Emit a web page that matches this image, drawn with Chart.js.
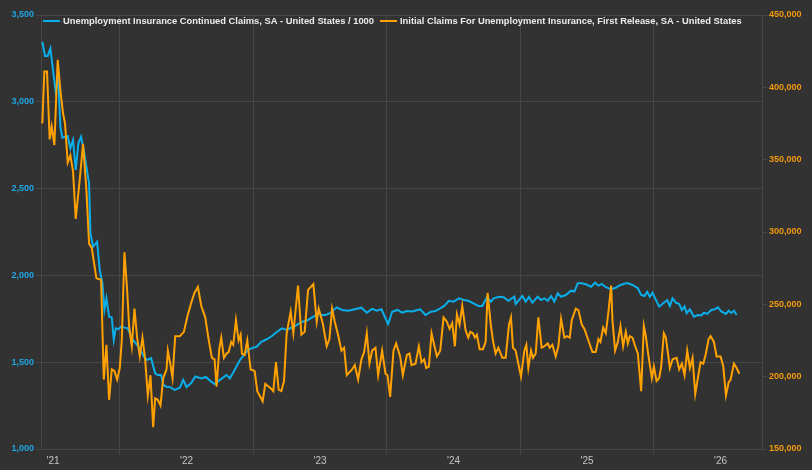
<!DOCTYPE html>
<html lang="en">
<head>
<meta charset="UTF-8">
<title>Continued vs Initial Claims</title>
<script src="https://cdn.jsdelivr.net/npm/chart.js"></script>
<style>
  html, body { margin: 0; padding: 0; background: #323232; }
  #wrap { width: 812px; height: 470px; }
</style>
</head>
<body>
<div id="wrap"><canvas id="grafico"></canvas></div>
<script>
// continued claims / 1000 (left axis), dates as decimal years
const contDates = [2021.42,2021.44,2021.46,2021.48,2021.52,2021.54,2021.555,2021.57,2021.59,2021.61,2021.63,2021.65,2021.67,2021.69,2021.71,2021.73,2021.77,2021.78,2021.80,2021.83,2021.85,2021.87,2021.885,2021.90,2021.92,2021.94,2021.955,2021.97,2021.99,
  2022.01,2022.035,2022.06,2022.09,2022.12,2022.15,2022.18,2022.205,2022.235,2022.265,2022.285,2022.31,2022.325,2022.35,2022.375,2022.41,2022.45,2022.475,2022.50,2022.535,2022.565,2022.61,2022.645,2022.675,2022.71,2022.75,2022.80,2022.825,2022.86,2022.90,2022.925,2022.96,2022.985,
  2023.025,2023.06,2023.10,2023.14,2023.175,2023.215,2023.25,2023.315,2023.365,2023.40,2023.45,2023.49,2023.51,2023.54,2023.575,2023.625,2023.665,2023.71,2023.76,2023.81,2023.85,2023.89,2023.925,2023.96,2023.99,
  2024.01,2024.04,2024.08,2024.115,2024.15,2024.19,2024.23,2024.25,2024.29,2024.33,2024.365,2024.39,2024.43,2024.465,2024.50,2024.54,2024.575,2024.61,2024.65,2024.685,2024.715,2024.75,2024.78,2024.80,2024.84,2024.875,2024.91,2024.955,2024.965,
  2025.015,2025.04,2025.065,2025.09,2025.13,2025.155,2025.18,2025.205,2025.23,2025.255,2025.28,2025.305,2025.34,2025.38,2025.405,2025.43,2025.46,2025.49,2025.53,2025.56,2025.585,2025.61,2025.64,2025.68,2025.715,2025.75,2025.79,2025.805,2025.84,2025.88,2025.905,2025.93,2025.95,2025.97,2025.99,
  2026.01,2026.04,2026.07,2026.10,2026.12,2026.14,2026.165,2026.19,2026.21,2026.23,2026.245,2026.27,2026.30,2026.33,2026.355,2026.375,2026.40,2026.43,2026.455,2026.48,2026.505,2026.54,2026.56,2026.58,2026.60,2026.62];
const contValues = [3346,3264,3264,3308,3058,3126,2857,2793,2799,2803,2732,2780,2607,2761,2799,2722,2531,2243,2165,2194,2031,1955,1801,1868,1762,1759,1628,1695,1690,
  1705,1699,1695,1638,1609,1580,1532,1513,1523,1436,1426,1426,1369,1359,1357,1340,1353,1398,1357,1380,1418,1407,1415,1394,1375,1398,1426,1407,1455,1513,1536,1570,1580,
  1589,1618,1632,1651,1674,1695,1686,1709,1733,1739,1762,1785,1772,1772,1782,1816,1801,1797,1805,1814,1785,1807,1797,1805,1753,
  1720,1791,1801,1785,1795,1792,1801,1805,1772,1791,1795,1805,1824,1854,1849,1868,1858,1854,1839,1824,1824,1874,1849,1868,1877,1874,1854,1877,1835,
  1881,1849,1876,1843,1877,1858,1868,1854,1881,1849,1897,1877,1887,1912,1907,1955,1955,1949,1935,1958,1941,1951,1932,1920,1929,1945,1955,1955,1945,1926,1887,1881,1906,1877,1900,
  1868,1820,1839,1858,1824,1868,1843,1835,1801,1821,1782,1805,1762,1772,1769,1785,1778,1801,1805,1816,1792,1778,1797,1784,1797,1772];

// initial claims, first release (right axis)
const initDates = [2021.42,2021.435,2021.455,2021.475,2021.49,2021.51,2021.535,2021.555,2021.575,2021.59,2021.61,2021.63,2021.65,2021.67,2021.70,2021.725,2021.75,2021.77,2021.79,2021.825,2021.86,2021.88,2021.90,2021.92,2021.94,2021.96,2021.98,
  2022.00,2022.015,2022.035,2022.055,2022.07,2022.09,2022.11,2022.13,2022.15,2022.17,2022.19,2022.21,2022.23,2022.25,2022.265,2022.285,2022.305,2022.325,2022.35,2022.36,2022.38,2022.395,2022.415,2022.45,2022.48,2022.51,2022.535,2022.56,2022.585,2022.61,2022.64,2022.665,2022.69,2022.71,2022.725,2022.745,2022.76,2022.78,2022.80,2022.815,2022.835,2022.85,2022.87,2022.89,2022.905,2022.915,2022.935,2022.955,2022.98,
  2023.01,2023.03,2023.07,2023.09,2023.13,2023.15,2023.17,2023.19,2023.21,2023.23,2023.25,2023.28,2023.30,2023.335,2023.36,2023.385,2023.41,2023.45,2023.475,2023.49,2023.52,2023.55,2023.57,2023.59,2023.61,2023.635,2023.66,2023.68,2023.70,2023.74,2023.76,2023.785,2023.81,2023.83,2023.85,2023.87,2023.89,2023.915,2023.935,2023.965,2023.99,
  2024.005,2024.025,2024.05,2024.07,2024.10,2024.12,2024.15,2024.17,2024.185,2024.215,2024.24,2024.26,2024.28,2024.295,2024.315,2024.335,2024.35,2024.375,2024.40,2024.425,2024.45,2024.47,2024.49,2024.51,2024.525,2024.545,2024.565,2024.59,2024.61,2024.625,2024.645,2024.66,2024.675,2024.695,2024.72,2024.74,2024.755,2024.78,2024.795,2024.815,2024.835,2024.865,2024.89,2024.915,2024.93,2024.945,2024.965,
  2025.005,2025.03,2025.045,2025.06,2025.08,2025.095,2025.115,2025.135,2025.16,2025.18,2025.205,2025.22,2025.24,2025.265,2025.285,2025.305,2025.33,2025.35,2025.37,2025.385,2025.415,2025.435,2025.46,2025.48,2025.51,2025.54,2025.565,2025.585,2025.60,2025.62,2025.64,2025.66,2025.68,2025.69,2025.71,2025.73,2025.75,2025.77,2025.79,2025.805,2025.82,2025.84,2025.86,2025.88,2025.905,2025.925,2025.94,2025.96,2025.985,
  2026.00,2026.02,2026.04,2026.055,2026.075,2026.09,2026.12,2026.14,2026.17,2026.19,2026.21,2026.23,2026.25,2026.27,2026.29,2026.31,2026.335,2026.35,2026.37,2026.39,2026.41,2026.425,2026.45,2026.47,2026.50,2026.52,2026.54,2026.56,2026.575,2026.60,2026.62,2026.64];
const initValues = [375000,411000,411000,364000,373000,360000,419000,398000,382000,375000,348000,353000,342000,309000,336000,361000,329000,292000,289000,268000,267000,198000,222000,184000,205000,204000,198000,
  206000,225000,286000,260000,235000,221000,247000,227000,214000,227000,212000,187000,201000,165000,185000,184000,180000,199000,205000,218000,208000,199000,228000,228000,231000,243000,251000,258000,262000,249000,241000,226000,213000,212000,193000,219000,227000,213000,216000,217000,224000,222000,239000,225000,229000,216000,215000,225000,205000,
  204000,190000,183000,195000,192000,190000,210000,191000,190000,197000,230000,245000,230000,263000,229000,231000,260000,264000,238000,247000,237000,221000,226000,247000,238000,229000,218000,220000,201000,205000,208000,198000,212000,217000,230000,209000,218000,220000,201000,218000,202000,
  201000,186000,218000,223000,214000,201000,215000,216000,208000,209000,221000,210000,212000,206000,207000,230000,224000,214000,218000,241000,238000,233000,237000,221000,243000,236000,249000,232000,227000,231000,230000,227000,229000,219000,219000,224000,258000,235000,225000,216000,220000,213000,213000,236000,241000,220000,218000,
  200000,218000,222000,206000,218000,213000,216000,241000,220000,221000,223000,220000,222000,214000,221000,240000,227000,228000,227000,239000,247000,246000,236000,233000,225000,217000,217000,226000,224000,234000,230000,245000,263000,239000,218000,224000,235000,221000,231000,223000,228000,227000,221000,216000,190000,235000,228000,214000,199000,
  207000,197000,199000,207000,230000,227000,206000,212000,213000,205000,209000,201000,218000,206000,213000,188000,202000,210000,209000,216000,226000,228000,224000,214000,214000,207000,187000,196000,198000,209000,206000,202000];

// axis ticks
const gridYears = [2022, 2023, 2024, 2025, 2026];
const labelYears = [2021.5, 2022.5, 2023.5, 2024.5, 2025.5, 2026.5];
const yearLabels = ["'21", "'22", "'23", "'24", "'25", "'26"];

const seriesNames = [
  'Unemployment Insurance Continued Claims, SA - United States / 1000',
  'Initial Claims For Unemployment Insurance, First Release, SA - United States'
];

const BLUE = '#0aaeea';
const ORANGE = '#ffa100';
const GRID = '#464646';
const FONT = 'Liberation Sans, Arial, sans-serif';

const toPoints = (xs, ys) => xs.map((x, i) => ({ x: x, y: ys[i] }));
const fmt = v => Number(v).toLocaleString('en-US');

// legend sits inside the plot, one row, top-left
const insideLegend = {
  id: 'insideLegend',
  afterDatasetsDraw(chart) {
    const { ctx, chartArea } = chart;
    ctx.save();
    ctx.font = 'bold 9.35px ' + FONT;
    ctx.textBaseline = 'middle';
    let x = chartArea.left + 2;
    const y = chartArea.top + 6;
    chart.data.datasets.forEach(ds => {
      ctx.fillStyle = ds.borderColor;
      ctx.fillRect(x, y - 1, 17, 2);
      x += 20;
      ctx.fillStyle = '#ececec';
      ctx.fillText(ds.label, x, y);
      x += ctx.measureText(ds.label).width + 6;
    });
    ctx.restore();
  }
};

const ctx = document.getElementById('grafico').getContext('2d');
const grafico = new Chart(ctx, {
  type: 'line',
  data: {
    datasets: [{
      label: seriesNames[0],
      data: toPoints(contDates, contValues),
      borderColor: BLUE,
      backgroundColor: BLUE,
      borderWidth: 2,
      pointRadius: 0,
      tension: 0,
      yAxisID: 'y',
      order: 1
    }, {
      label: seriesNames[1],
      data: toPoints(initDates, initValues),
      borderColor: ORANGE,
      backgroundColor: ORANGE,
      borderWidth: 2,
      pointRadius: 0,
      tension: 0,
      yAxisID: 'y1',
      order: 0
    }]
  },
  plugins: [insideLegend],
  options: {
    responsive: true,
    maintainAspectRatio: false,
    animation: false,
    layout: { padding: { top: 15 } },
    plugins: {
      tooltip: { enabled: false },
      legend: { display: false }
    },
    scales: {
      x: {
        type: 'linear',
        min: 2021.41,
        max: 2026.81,
        afterBuildTicks: s => {
          s.ticks = gridYears.concat(labelYears).sort((a, b) => a - b).map(v => ({ value: v }));
        },
        afterFit: s => { s.height = 21; },
        grid: {
          color: c => Number.isInteger(c.tick && c.tick.value) ? GRID : 'rgba(0,0,0,0)',
          tickLength: 6
        },
        border: { color: GRID },
        ticks: {
          autoSkip: false,
          maxRotation: 0,
          padding: 0,
          color: '#c4c4c4',
          font: { family: FONT, size: 10 },
          callback: v => {
            const i = labelYears.indexOf(v);
            return i >= 0 ? yearLabels[i] : '';
          }
        }
      },
      y: {
        position: 'left',
        min: 1000,
        max: 3500,
        afterFit: s => { s.width = 41; },
        grid: { color: GRID, tickLength: 5 },
        border: { color: GRID },
        ticks: {
          stepSize: 500,
          padding: 2,
          color: '#1ea6e2',
          font: { family: FONT, size: 9, weight: 'bold' },
          callback: fmt
        }
      },
      y1: {
        position: 'right',
        min: 150000,
        max: 450000,
        afterFit: s => { s.width = 50; },
        grid: { drawOnChartArea: false, color: GRID, tickLength: 5 },
        border: { color: GRID },
        ticks: {
          stepSize: 50000,
          padding: 2,
          color: '#f29a0c',
          font: { family: FONT, size: 9, weight: 'bold' },
          callback: fmt
        }
      }
    }
  }
});
</script>
</body>
</html>
